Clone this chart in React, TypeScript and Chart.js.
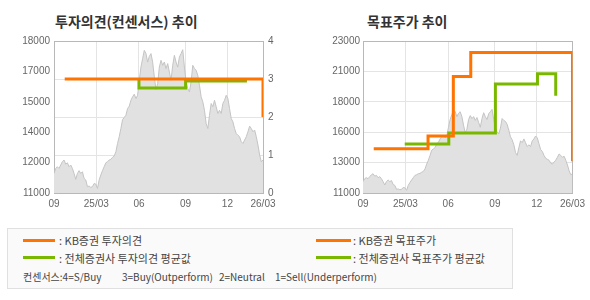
import React, { useEffect, useRef } from "react";
import { Chart, registerables } from "chart.js";

Chart.register(...registerables);

// ---------- data ----------
const xTickPos = [0, 25.3, 50.8, 78.7, 103.7, 125];
const xTickLabels = ["09", "25/03", "06", "09", "12", "26/03"];

const priceLeftTicks = [11000, 12400, 13800, 15200, 16600, 18000];
const priceLeftTickLabels = ["11000", "12000", "14000", "15000", "17000", "18000"];
const opinionTicks = [0, 1, 2, 3, 4];

const priceRightTicks = [11000, 13400, 15800, 18200, 20600, 23000];
const priceRightTickLabels = ["11000", "13000", "16000", "18000", "21000", "23000"];

const price = [
  11900, 12130, 12210, 12130, 12290, 12440, 12520, 12330, 12390, 12210,
  12290, 12130, 11900, 11630, 11900, 12030, 11900, 11980, 11670, 11600,
  11290, 11320, 11260, 11290, 11440, 11410, 11210, 11600, 11830, 12030,
  12210, 12390, 12440, 12520, 12550, 12640, 12700, 12900, 13280, 13590,
  13970, 14380, 14480, 14580, 14890, 15000, 15270, 15430, 15550, 15350,
  15500, 16190, 16800, 17190, 17570, 17420, 17030, 17290, 17420, 17030,
  16350, 15760, 16040, 16800, 17110, 16880, 17030, 16730, 16960, 16570,
  16190, 16880, 17340, 17030, 16800, 17260, 17420, 17600, 16800, 16120,
  15810, 15660, 16120, 16880, 16730, 16650, 16420, 15960, 15430, 15200,
  14810, 14200, 13970, 14580, 15120, 14970, 15270, 14970, 14660, 14810,
  14660, 15120, 15270, 15500, 15350, 14890, 14430, 14280, 13970, 13740,
  13660, 13590, 13360, 13280, 13440, 13590, 13820, 14080, 13970, 13820,
  13900, 13590, 13210, 12750, 12440, 12520,
];

const kbOpinionX = [6.4, 125];
const kbOpinionY = [3, 2];
const avgOpinionX = [50.8, 50.8, 78.7, 115.4];
const avgOpinionY = [3.0, 2.76, 2.95, 2.95];

const kbTargetX = [6.4, 38.8, 53.9, 64.3, 125];
const kbTargetY = [14500, 15500, 20200, 22100, 13500];
const avgTargetX = [24.9, 51.2, 79.0, 104.1, 115.0];
const avgTargetY = [14870, 15740, 19600, 20420, 18680];

// ---------- styles ----------
const ORANGE = "#ff7300";
const GREEN = "#7ab800";
const GRID = "#e4e4e4";
const FRAME = "#b8b8b8";
const TICK_COLOR = "#666";
const NUM_FONT = '"Liberation Sans", Arial, sans-serif';
const KR_FONT = '"Noto Sans CJK KR", sans-serif';

const zip = (xs: number[], ys: number[]) => xs.map((x, i) => ({ x, y: ys[i] }));

const framePlugin = {
  id: "frame",
  beforeDatasetsDraw(chart: any) {
    const { ctx, chartArea: a } = chart;
    const l = Math.round(a.left), t = Math.round(a.top);
    const r = Math.round(a.right), b = Math.round(a.bottom);
    ctx.save();
    ctx.strokeStyle = FRAME;
    ctx.lineWidth = 1;
    ctx.strokeRect(l + 0.5, t + 0.5, r - l, b - t);
    ctx.restore();
  },
};

const tickFont = { family: NUM_FONT, size: 10 };

function xScale() {
  return {
    type: "linear",
    min: 0,
    max: 125,
    afterBuildTicks: (s: any) => {
      s.ticks = xTickPos.map((v) => ({ value: v }));
    },
    afterFit: (s: any) => {
      s.height = 22;
    },
    ticks: {
      autoSkip: false,
      maxRotation: 0,
      color: TICK_COLOR,
      font: tickFont,
      padding: 5,
      callback: (_v: any, i: number) => xTickLabels[i],
    },
    grid: { color: GRID, drawTicks: false },
    border: { display: false },
  };
}

function priceArea(yAxisID: string) {
  return {
    type: "line",
    data: price.map((v, i) => ({ x: i, y: v })),
    yAxisID,
    borderColor: "#c4c4c4",
    borderWidth: 1,
    backgroundColor: "#e1e1e1",
    fill: "start",
    pointRadius: 0,
    tension: 0,
  };
}

function stepLine(data: any[], color: string, yAxisID: string) {
  return {
    type: "line",
    data,
    yAxisID,
    borderColor: color,
    borderWidth: 3,
    fill: false,
    pointRadius: 0,
    stepped: "before",
    borderCapStyle: "butt",
    borderJoinStyle: "miter",
  };
}

const baseOptions = {
  responsive: false,
  maintainAspectRatio: false,
  animation: false,
  events: [],
  plugins: { legend: { display: false }, tooltip: { enabled: false } },
};

export default function App() {
  const leftRef = useRef<HTMLCanvasElement>(null);
  const rightRef = useRef<HTMLCanvasElement>(null);

  useEffect(() => {
    const left = new Chart(leftRef.current as HTMLCanvasElement, {
      type: "line",
      data: {
        datasets: [
          stepLine(zip(kbOpinionX, kbOpinionY), ORANGE, "y1"),
          stepLine(zip(avgOpinionX, avgOpinionY), GREEN, "y1"),
          priceArea("y"),
        ],
      } as any,
      options: {
        ...baseOptions,
        layout: { padding: { top: 11, left: 0, right: 0, bottom: 0 } },
        scales: {
          x: xScale(),
          y: {
            type: "linear",
            position: "left",
            min: 11000,
            max: 18000,
            afterBuildTicks: (s: any) => {
              s.ticks = priceLeftTicks.map((v) => ({ value: v }));
            },
            afterFit: (s: any) => {
              s.width = 54;
            },
            ticks: {
              color: TICK_COLOR,
              font: tickFont,
              padding: 4,
              callback: (_v: any, i: number) => priceLeftTickLabels[i],
            },
            grid: { display: false, drawTicks: false },
            border: { display: false },
          },
          y1: {
            type: "linear",
            position: "right",
            min: 0,
            max: 4,
            afterBuildTicks: (s: any) => {
              s.ticks = opinionTicks.map((v) => ({ value: v }));
            },
            afterFit: (s: any) => {
              s.width = 32;
            },
            ticks: {
              color: TICK_COLOR,
              font: tickFont,
              padding: 5,
              callback: (v: any) => String(v),
            },
            grid: { color: GRID, drawTicks: false },
            border: { display: false },
          },
        },
      } as any,
      plugins: [framePlugin],
    });

    const right = new Chart(rightRef.current as HTMLCanvasElement, {
      type: "line",
      data: {
        datasets: [
          stepLine(zip(kbTargetX, kbTargetY), ORANGE, "y"),
          stepLine(zip(avgTargetX, avgTargetY), GREEN, "y"),
          priceArea("y"),
        ],
      } as any,
      options: {
        ...baseOptions,
        layout: { padding: { top: 11, left: 0, right: 17, bottom: 0 } },
        scales: {
          x: xScale(),
          y: {
            type: "linear",
            position: "left",
            min: 11000,
            max: 23000,
            afterBuildTicks: (s: any) => {
              s.ticks = priceRightTicks.map((v) => ({ value: v }));
            },
            afterFit: (s: any) => {
              s.width = 68;
            },
            ticks: {
              color: TICK_COLOR,
              font: tickFont,
              padding: 3,
              callback: (_v: any, i: number) => priceRightTickLabels[i],
            },
            grid: { color: GRID, drawTicks: false },
            border: { display: false },
          },
        },
      } as any,
      plugins: [framePlugin],
    });

    return () => {
      left.destroy();
      right.destroy();
    };
  }, []);

  const title: React.CSSProperties = {
    position: "absolute",
    fontFamily: KR_FONT,
    fontWeight: "bold",
    fontSize: 14,
    lineHeight: "16px",
    color: "#333",
    whiteSpace: "nowrap",
  };
  const legText: React.CSSProperties = {
    position: "absolute",
    fontFamily: KR_FONT,
    fontSize: 11,
    lineHeight: "14px",
    color: "#444",
    whiteSpace: "nowrap",
  };
  const legSmall: React.CSSProperties = { ...legText, fontSize: 10, top: 270 };
  const legLine = (left: number, top: number, w: number, color: string): React.CSSProperties => ({
    position: "absolute",
    left,
    top,
    width: w,
    height: 3,
    background: color,
  });

  return (
    <div
      style={{
        position: "absolute",
        left: 0,
        top: 0,
        width: 590,
        height: 300,
        background: "#fff",
        overflow: "hidden",
      }}
    >
      <div style={{ ...title, left: 55, top: 13 }}>투자의견(컨센서스) 추이</div>
      <div style={{ ...title, left: 367, top: 13 }}>목표주가 추이</div>

      <canvas
        ref={leftRef}
        width={295}
        height={185}
        style={{ position: "absolute", left: 0, top: 30, width: 295, height: 185 }}
      />
      <canvas
        ref={rightRef}
        width={295}
        height={185}
        style={{ position: "absolute", left: 295, top: 30, width: 295, height: 185 }}
      />

      <div
        style={{
          position: "absolute",
          left: 7,
          top: 228,
          width: 504,
          height: 59,
          border: "1px solid #e0e0e0",
          background: "#fafafa",
        }}
      />
      <div style={legLine(23, 239, 32, ORANGE)} />
      <div style={{ ...legText, left: 59, top: 233 }}>: KB증권 투자의견</div>
      <div style={legLine(23, 256, 32, GREEN)} />
      <div style={{ ...legText, left: 59, top: 251 }}>: 전체증권사 투자의견 평균값</div>
      <div style={legLine(316, 239, 35, ORANGE)} />
      <div style={{ ...legText, left: 353, top: 233 }}>: KB증권 목표주가</div>
      <div style={legLine(316, 256, 35, GREEN)} />
      <div style={{ ...legText, left: 353, top: 251 }}>: 전체증권사 목표주가 평균값</div>

      <div style={{ ...legSmall, left: 23 }}>컨센서스:4=S/Buy</div>
      <div style={{ ...legSmall, left: 122 }}>3=Buy(Outperform)</div>
      <div style={{ ...legSmall, left: 219 }}>2=Neutral</div>
      <div style={{ ...legSmall, left: 275 }}>1=Sell(Underperform)</div>
    </div>
  );
}
